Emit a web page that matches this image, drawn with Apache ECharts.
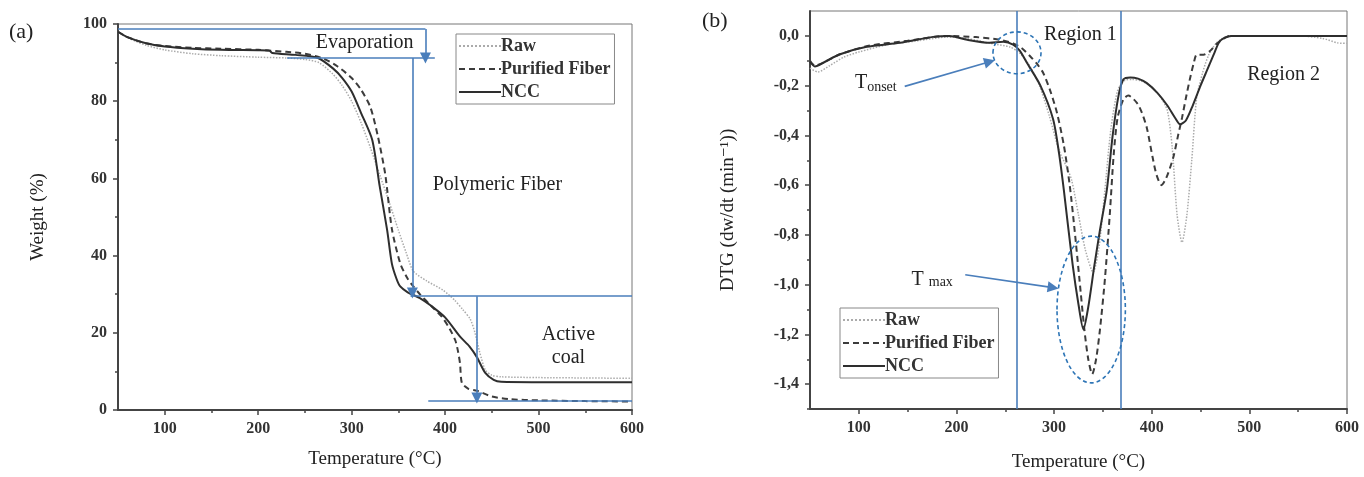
<!DOCTYPE html>
<html>
<head>
<meta charset="utf-8">
<script src="https://cdn.jsdelivr.net/npm/echarts@6/dist/echarts.min.js"></script>
<style>
  html, body { margin: 0; padding: 0; background: #fff; }
  #main { width: 1364px; height: 477px; }
</style>
</head>
<body>
<div id="main"></div>
<script>
/* (a) TGA curves: temperature (°C) vs weight (%) */
var rawT = [50, 60, 80, 100, 130, 160, 200, 230, 250, 265, 280, 290, 300, 310, 320, 330, 340, 350, 358, 366, 380, 398, 410, 419, 427, 432, 437, 443, 450, 460, 500, 550, 600];
var rawW = [98, 96.5, 94.5, 93.3, 92.3, 91.8, 91.4, 91.2, 90.8, 90, 87, 84, 80, 74.5, 68, 61, 54, 46.6, 41, 36, 33.5, 31, 28.5, 26, 23.5, 20, 15, 10.4, 9, 8.6, 8.4, 8.3, 8.2];
var pfT = [50, 60, 80, 100, 130, 160, 200, 230, 250, 270, 285, 300, 310, 320, 328, 336, 343, 352, 360, 366, 373, 385, 397, 405, 411, 414, 416, 418, 425, 434, 450, 470, 500, 550, 600];
var pfW = [98, 96.6, 95, 94.3, 93.8, 93.6, 93.3, 92.8, 92.3, 91, 89, 86, 83, 78.5, 71, 61, 47, 38, 34, 32, 30, 27, 24, 21, 18, 15, 12, 7, 5.5, 5, 3.5, 2.8, 2.5, 2.3, 2.2];
var nccT = [50, 60, 80, 100, 130, 160, 200, 212, 215, 240, 264, 280, 290, 300, 310, 322, 330, 338, 343, 348, 352, 360, 373, 385, 400, 416, 426, 434, 443, 452, 460, 500, 550, 600];
var nccW = [98, 96.6, 95, 94.2, 93.6, 93.3, 93.2, 93.1, 92.5, 92, 91.2, 88.5, 86, 82.5, 77, 70, 58, 46.6, 38, 34, 32, 30.5, 29, 27, 24, 19, 16.5, 13.7, 9.6, 7.8, 7.3, 7.2, 7.2, 7.2];

/* (b) DTG curves: temperature (°C) vs dw/dt */
var rawDT = [50, 58, 70, 85, 100, 130, 160, 190, 210, 235, 255, 265, 275, 285, 295, 305, 312, 318, 325, 332, 340, 346, 352, 358, 365, 372, 380, 388, 398, 408, 416, 421, 426, 431, 436, 441, 446, 452, 458, 466, 475, 500, 550, 575, 590, 600];
var rawD = [-0.13, -0.145, -0.12, -0.085, -0.065, -0.035, -0.02, -0.005, -0.01, -0.03, -0.045, -0.07, -0.12, -0.2, -0.32, -0.46, -0.52, -0.58, -0.72, -0.86, -0.95, -0.85, -0.62, -0.38, -0.22, -0.18, -0.175, -0.18, -0.2, -0.24, -0.3, -0.45, -0.72, -0.83, -0.72, -0.5, -0.25, -0.15, -0.08, -0.03, -0.005, 0, 0, -0.01, -0.028, -0.03];
var pfDT = [50, 55, 65, 80, 110, 150, 190, 220, 245, 258, 267, 275, 282, 289, 296, 303, 310, 316, 321, 326, 331, 335, 339, 343, 347, 352, 357, 361, 365, 371, 376, 385, 390, 395, 401, 405, 410, 415, 422, 427, 431, 435, 439, 443, 446, 453, 460, 467, 480, 500, 550, 600];
var pfD = [-0.1, -0.12, -0.105, -0.075, -0.04, -0.02, 0, -0.005, -0.016, -0.03, -0.05, -0.08, -0.11, -0.15, -0.22, -0.31, -0.44, -0.6, -0.78, -0.98, -1.18, -1.3, -1.36, -1.3, -1.18, -0.98, -0.72, -0.48, -0.33, -0.255, -0.24, -0.27, -0.31, -0.37, -0.49, -0.56, -0.6, -0.57, -0.49, -0.4, -0.33, -0.25, -0.175, -0.11, -0.076, -0.076, -0.06, -0.03, 0, 0, 0, 0];
var nccDT = [50, 55, 65, 80, 108, 142, 176, 193, 211, 234, 248, 258, 265, 272, 286, 299, 305, 310, 319, 325, 330, 335, 341, 347, 354, 360, 366, 371, 378, 386, 395, 406, 416, 424, 429, 435, 442, 450, 457, 464, 470, 481, 500, 550, 600];
var nccD = [-0.104, -0.123, -0.105, -0.075, -0.044, -0.028, -0.004, 0, -0.016, -0.028, -0.024, -0.035, -0.06, -0.107, -0.2, -0.335, -0.47, -0.62, -0.92, -1.08, -1.18, -1.09, -0.93, -0.78, -0.62, -0.4, -0.24, -0.175, -0.167, -0.172, -0.19, -0.23, -0.28, -0.33, -0.355, -0.34, -0.28, -0.2, -0.135, -0.07, -0.02, 0, 0, 0, 0];

/* ticks */
var tempTicks = [100, 200, 300, 400, 500, 600];
var tempMinor = [150, 250, 350, 450, 550];
var weightTicks = [0, 20, 40, 60, 80, 100];
var weightMinor = [10, 30, 50, 70, 90];
var dtgTicks = [-1.4, -1.2, -1.0, -0.8, -0.6, -0.4, -0.2, 0.0];
var dtgMinor = [-1.5, -1.3, -1.1, -0.9, -0.7, -0.5, -0.3, -0.1];

/* annotation guides, data coordinates */
var tgaGuides = [
    [[50, 98.7], [379, 98.7], false],
    [[379, 98.7], [379, 91.2], true],
    [[231, 91.2], [389, 91.2], false],
    [[365, 91.2], [365, 30.3], true],
    [[363, 29.5], [600, 29.5], false],
    [[434, 29.5], [434, 3.1], true],
    [[382, 2.3], [600, 2.3], false]
];
var dtgGuides = [
    [[262, 0.1], [262, -1.5], false],
    [[368, 0.1], [368, -1.5], false],
    [[147, -0.203], [234, -0.104], true],
    [[209, -0.96], [299, -1.012], true]
];
var tgaTexts = [
    ['Evaporation', 314, 95.1],
    ['Polymeric Fiber', 456, 58.3],
    ['Active\ncoal', 532, 16.6]
];
var dtgTexts = [
    ['Region 1', 327, 0.004],
    ['Region 2', 535, -0.155]
];

var BLUE = '#4a7ebb';
var SERIF = '"Liberation Serif", "DejaVu Serif", serif';

function pairs(xs, ys) {
    var out = [];
    for (var i = 0; i < xs.length; i++) out.push([xs[i], ys[i]]);
    return out;
}

function guideLines(list) {
    return list.map(function (g) {
        return [
            { coord: g[0], symbol: 'none' },
            { coord: g[1], symbol: g[2] ? 'triangle' : 'none', symbolSize: g[2] ? 11 : 0 }
        ];
    });
}

function curve(name, data, grid, style) {
    return {
        name: name, type: 'line', xAxisIndex: grid * 2, yAxisIndex: grid * 2,
        data: data, symbol: 'none', smooth: 0.25, lineStyle: style, itemStyle: { color: style.color },
        silent: true, z: 3
    };
}

function guideSeries(grid, list) {
    return {
        type: 'line', xAxisIndex: grid * 2, yAxisIndex: grid * 2, data: [], silent: true, z: 2,
        markLine: {
            silent: true, animation: false, symbolSize: 11,
            label: { show: false },
            lineStyle: { color: BLUE, width: 1.6, type: 'solid' },
            data: guideLines(list)
        }
    };
}

var rawStyle = { color: '#ababab', width: 1.5, type: 'dotted' };
var pfStyle = { color: '#3c3c3c', width: 2, type: [6, 4] };
var nccStyle = { color: '#2e2e2e', width: 2, type: 'solid' };

function xAxes(grid) {
    return [{
        gridIndex: grid, type: 'value', min: 50, max: 600, position: 'bottom',
        name: 'Temperature (°C)', nameLocation: 'middle', nameGap: grid ? 44 : 40,
        nameTextStyle: { fontFamily: SERIF, fontSize: 19, color: '#222' },
        axisLine: { onZero: false, lineStyle: { color: '#444', width: 2 } },
        axisTick: { customValues: tempTicks, length: 5, lineStyle: { color: '#444', width: 1.5 } },
        axisLabel: { customValues: tempTicks, margin: 11, fontFamily: SERIF, fontWeight: 'bold', fontSize: 16, color: '#333' },
        splitLine: { show: false }
    }, {
        gridIndex: grid, type: 'value', min: 50, max: 600, position: 'bottom',
        axisLine: { show: false, onZero: false },
        axisTick: { customValues: tempMinor, length: 3, lineStyle: { color: '#444', width: 1.5 } },
        axisLabel: { show: false }, splitLine: { show: false }
    }];
}

function yAxes(grid, min, max, ticks, minor, name, gap, fmt) {
    return [{
        gridIndex: grid, type: 'value', min: min, max: max, position: 'left',
        name: name, nameLocation: 'middle', nameGap: gap,
        nameTextStyle: { fontFamily: SERIF, fontSize: 19, color: '#222' },
        axisLine: { show: true, onZero: false, lineStyle: { color: '#444', width: 2 } },
        axisTick: { customValues: ticks, length: 5, lineStyle: { color: '#444', width: 1.5 } },
        axisLabel: { customValues: ticks, margin: 11, fontFamily: SERIF, fontWeight: 'bold', fontSize: 16, color: '#333', formatter: fmt },
        splitLine: { show: false }
    }, {
        gridIndex: grid, type: 'value', min: min, max: max, position: 'left',
        axisLine: { show: false, onZero: false },
        axisTick: { customValues: minor, length: 3, lineStyle: { color: '#444', width: 1.5 } },
        axisLabel: { show: false }, splitLine: { show: false }
    }];
}

function legend(left, top) {
    return {
        data: ['Raw', 'Purified Fiber', 'NCC'], orient: 'vertical', left: left, top: top,
        padding: [3, 4, 3, 2], itemGap: 5, itemWidth: 42, itemHeight: 17,
        borderColor: '#888', borderWidth: 1, selectedMode: false,
        itemStyle: { opacity: 0 },
        textStyle: { fontFamily: SERIF, fontSize: 18, fontWeight: 'bold', color: '#333', padding: [0, 0, 0, -5] }
    };
}

var chart = echarts.init(document.getElementById('main'));
chart.setOption({
    animation: false,
    backgroundColor: '#fff',
    grid: [
        { left: 118, top: 24, width: 514, height: 386, show: true, borderColor: '#777', borderWidth: 1 },
        { left: 810, top: 11, width: 537, height: 401, show: true, borderColor: '#777', borderWidth: 1 }
    ],
    xAxis: xAxes(0).concat(xAxes(1)),
    yAxis: yAxes(0, 0, 100, weightTicks, weightMinor, 'Weight (%)', 70, null)
        .concat(yAxes(1, -1.5, 0.1, dtgTicks, dtgMinor, 'DTG (dw/dt (min⁻¹))', 72, function (v) {
            return v.toFixed(1).replace('.', ',');
        })),
    legend: [legend(456, 34), legend(840, 308)],
    series: [
        curve('Raw', pairs(rawT, rawW), 0, rawStyle),
        curve('Purified Fiber', pairs(pfT, pfW), 0, pfStyle),
        curve('NCC', pairs(nccT, nccW), 0, nccStyle),
        curve('Raw', pairs(rawDT, rawD), 1, rawStyle),
        curve('Purified Fiber', pairs(pfDT, pfD), 1, pfStyle),
        curve('NCC', pairs(nccDT, nccD), 1, nccStyle),
        guideSeries(0, tgaGuides),
        guideSeries(1, dtgGuides)
    ]
});

/* texts and dashed ellipses placed from data coordinates */
function px(grid, p) {
    return chart.convertToPixel({ xAxisIndex: grid * 2, yAxisIndex: grid * 2 }, p);
}
function textEl(grid, t) {
    var p = px(grid, [t[1], t[2]]);
    return {
        type: 'text', x: p[0], y: p[1], z: 10, silent: true,
        style: { text: t[0], fontFamily: SERIF, fontSize: 20, fill: '#222', align: 'center', verticalAlign: 'middle', lineHeight: 23 }
    };
}
function ellipseEl(grid, cx, cy, rx, ry) {
    var c = px(grid, [cx, cy]);
    var e = px(grid, [cx + rx, cy + ry]);
    return {
        type: 'ellipse', z: 10, silent: true,
        shape: { cx: c[0], cy: c[1], rx: Math.abs(e[0] - c[0]), ry: Math.abs(e[1] - c[1]) },
        style: { fill: 'none', stroke: '#2e75b6', lineWidth: 1.6, lineDash: [4, 3] }
    };
}
var onset = px(1, [96, -0.19]);
var tmax = px(1, [154, -0.98]);
var graphics = tgaTexts.map(function (t) { return textEl(0, t); })
    .concat(dtgTexts.map(function (t) { return textEl(1, t); }))
    .concat([
        ellipseEl(1, 262, -0.068, 24.6, 0.084),
        ellipseEl(1, 338, -1.1, 35, 0.295),
        {
            type: 'text', x: onset[0], y: onset[1], z: 10, silent: true,
            style: { text: '{t|T}{s|onset}', fontFamily: SERIF, fill: '#222', verticalAlign: 'middle',
                rich: { t: { fontSize: 20, fontFamily: SERIF }, s: { fontSize: 14, fontFamily: SERIF, padding: [8, 0, 0, 0] } } }
        },
        {
            type: 'text', x: tmax[0], y: tmax[1], z: 10, silent: true,
            style: { text: '{t|T }{s|max}', fontFamily: SERIF, fill: '#222', verticalAlign: 'middle',
                rich: { t: { fontSize: 20, fontFamily: SERIF }, s: { fontSize: 14, fontFamily: SERIF, padding: [6, 0, 0, 0] } } }
        },
        { type: 'text', left: 9, top: 21, z: 10, style: { text: '(a)', fontFamily: SERIF, fontSize: 22, fill: '#222' } },
        { type: 'text', left: 702, top: 10, z: 10, style: { text: '(b)', fontFamily: SERIF, fontSize: 22, fill: '#222' } }
    ]);
chart.setOption({ graphic: graphics });
</script>
</body>
</html>
